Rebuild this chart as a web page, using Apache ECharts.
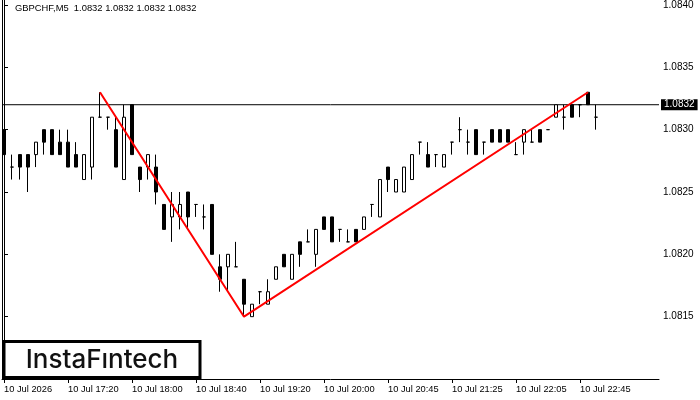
<!DOCTYPE html>
<html>
<head>
<meta charset="utf-8">
<script src="https://cdn.jsdelivr.net/npm/echarts@6/dist/echarts.min.js"></script>
<style>
	html, body { margin: 0; padding: 0; background: #fff; }
	#chart { width: 700px; height: 400px; }
</style>
</head>
<body>
<div id="chart"></div>
<script>
// GBPCHF M5 bars (index 0 = 16:40)
var openPrices = [
	1.0830, 1.0827, 1.0828, 1.0828, 1.0828, 1.0830, 1.0830, 1.0829, 1.0829, 1.0828,
	1.0826, 1.0827, 1.0831, 1.0831, 1.0830, 1.0826, 1.0832, 1.0827, 1.0827, 1.0827,
	1.0824, 1.0823, 1.0823, 1.0825, 1.0824, 1.0823, 1.0824, 1.0819, 1.0819, 1.0819,
	1.0818, 1.0815, 1.0817, 1.0816, 1.0818, 1.0820, 1.0818, 1.0821, 1.0821, 1.0820,
	1.0823, 1.0823, 1.0822, 1.0821, 1.0822, 1.0822, 1.0824, 1.0823, 1.0827, 1.0825,
	1.0825, 1.0826, 1.0829, 1.0828, 1.0828, 1.0827, 1.0829, 1.0830, 1.0829, 1.0830,
	1.0829, 1.0830, 1.0830, 1.0830, 1.0828, 1.0829, 1.0829, 1.0830, 1.0830, 1.0831,
	1.0831, 1.0832, 1.0832, 1.0833, 1.0831
];
var closePrices = [
	1.0828, 1.0827, 1.0827, 1.0827, 1.0829, 1.0829, 1.0828, 1.0828, 1.0827, 1.0827,
	1.0828, 1.0831, 1.0831, 1.0831, 1.0827, 1.0831, 1.0828, 1.0826, 1.0828, 1.0825,
	1.0822, 1.0824, 1.0824, 1.0823, 1.0824, 1.0823, 1.0820, 1.0818, 1.0820, 1.0819,
	1.0816, 1.0816, 1.0817, 1.0817, 1.0819, 1.0819, 1.0820, 1.0820, 1.0821, 1.0822,
	1.0822, 1.0821, 1.0822, 1.0821, 1.0821, 1.0823, 1.0824, 1.0826, 1.0826, 1.0826,
	1.0827, 1.0828, 1.0829, 1.0827, 1.0828, 1.0828, 1.0829, 1.0830, 1.0829, 1.0828,
	1.0829, 1.0829, 1.0829, 1.0829, 1.0828, 1.0830, 1.0829, 1.0829, 1.0830, 1.0832,
	1.0831, 1.0831, 1.0832, 1.0832, 1.0831
];
var lowPrices = [
	1.0828, 1.0826, 1.0826, 1.0825, 1.0827, 1.0828, 1.0828, 1.0828, 1.0827, 1.0827,
	1.0826, 1.0826, 1.0831, 1.0830, 1.0827, 1.0826, 1.0828, 1.0825, 1.0826, 1.0824,
	1.0822, 1.0821, 1.0822, 1.0822, 1.0823, 1.0822, 1.0820, 1.0817, 1.0817, 1.0819,
	1.0815, 1.0815, 1.0816, 1.0816, 1.0818, 1.0819, 1.0818, 1.0819, 1.0821, 1.0819,
	1.0822, 1.0821, 1.0821, 1.0821, 1.0821, 1.0822, 1.0823, 1.0823, 1.0825, 1.0825,
	1.0825, 1.0826, 1.0828, 1.0827, 1.0827, 1.0827, 1.0828, 1.0829, 1.0828, 1.0828,
	1.0828, 1.0829, 1.0829, 1.0829, 1.0828, 1.0828, 1.0829, 1.0829, 1.0830, 1.0831,
	1.0830, 1.0831, 1.0831, 1.0832, 1.0830
];
var highPrices = [
	1.0830, 1.0828, 1.0828, 1.0828, 1.0829, 1.0830, 1.0830, 1.0830, 1.0830, 1.0829,
	1.0828, 1.0831, 1.0833, 1.0831, 1.0831, 1.0832, 1.0832, 1.0827, 1.0828, 1.0828,
	1.0824, 1.0825, 1.0825, 1.0825, 1.0824, 1.0824, 1.0824, 1.0820, 1.0820, 1.0821,
	1.0818, 1.0816, 1.0817, 1.0818, 1.0819, 1.0820, 1.0820, 1.0821, 1.0822, 1.0822,
	1.0823, 1.0823, 1.0822, 1.0822, 1.0822, 1.0823, 1.0824, 1.0826, 1.0827, 1.0826,
	1.0827, 1.0828, 1.0829, 1.0829, 1.0828, 1.0828, 1.0829, 1.0831, 1.0830, 1.0830,
	1.0829, 1.0830, 1.0830, 1.0830, 1.0829, 1.0830, 1.0830, 1.0830, 1.0830, 1.0832,
	1.0832, 1.0832, 1.0832, 1.0833, 1.0832
];

// pattern line drawn on the chart: bar index / price
var patternIdx = [12, 30, 73];
var patternPrice = [1.0833, 1.0815, 1.0833];

var timeTickIdx = [0, 8, 16, 24, 32, 40, 48, 56, 64, 72];
var timeLabels = ['10 Jul 2026', '10 Jul 17:20', '10 Jul 18:00', '10 Jul 18:40', '10 Jul 19:20',
	'10 Jul 20:00', '10 Jul 20:45', '10 Jul 21:25', '10 Jul 22:05', '10 Jul 22:45'];

var lastPrice = 1.0832;
var titleText = 'GBPCHF,M5  1.0832 1.0832 1.0832 1.0832';

// x range in bar units: 8 px per bar, chart shifted to leave empty space on the right
var xMin = -0.25, xMax = 81.875;

var font = 'Liberation Sans, Arial, sans-serif';

var candles = [], i;
for (i = 0; i < openPrices.length; i++) {
	candles.push([i, openPrices[i], closePrices[i], lowPrices[i], highPrices[i]]);
}
var pattern = [];
for (i = 0; i < patternIdx.length; i++) {
	pattern.push([patternIdx[i], patternPrice[i]]);
}

var myChart = echarts.init(document.getElementById('chart'), null, { renderer: 'canvas' });

var option = {
	animation: false,
	backgroundColor: '#ffffff',
	title: {
		text: titleText,
		left: 15,
		top: 4,
		padding: 0,
		textStyle: { fontFamily: font, fontSize: 9.4, fontWeight: 'normal', color: '#000' }
	},
	grid: { left: 2, right: 41, top: 0, bottom: 21 },
	xAxis: {
		type: 'value',
		min: xMin,
		max: xMax,
		splitLine: { show: false },
		axisLine: { show: true, onZero: false, lineStyle: { color: '#000', width: 1 } },
		axisTick: { show: true, length: 4, customValues: timeTickIdx, lineStyle: { color: '#000' } },
		axisLabel: {
			customValues: timeTickIdx,
			align: 'left',
			margin: 6,
			fontFamily: font,
			fontSize: 9.3,
			color: '#000',
			formatter: function (v) {
				var k = timeTickIdx.indexOf(Math.round(v));
				return k >= 0 ? timeLabels[k] : '';
			}
		}
	},
	yAxis: [{
		type: 'value',
		position: 'right',
		min: 1.0810,
		max: 1.08404,
		interval: 0.0005,
		scale: true,
		splitLine: { show: false },
		axisLine: { show: true, lineStyle: { color: '#000', width: 1 } },
		axisTick: { show: true, length: 4, lineStyle: { color: '#000' } },
		axisLabel: {
			showMinLabel: false,
			showMaxLabel: false,
			margin: 4,
			fontFamily: font,
			fontSize: 10,
			color: '#000',
			formatter: function (v) { return v.toFixed(4); }
		}
	}, {
		type: 'value',
		position: 'left',
		min: 1.0810,
		max: 1.08404,
		splitLine: { show: false },
		axisLine: { show: true, lineStyle: { color: '#000', width: 1 } },
		axisTick: { show: false },
		axisLabel: { show: false }
	}],
	series: [{
		// current price line with its tag on the price scale
		type: 'line',
		yAxisIndex: 0,
		data: [[xMin, lastPrice], [xMax, lastPrice]],
		showSymbol: false,
		clip: false,
		z: 1,
		lineStyle: { color: '#000', width: 1 },
		endLabel: {
			show: true,
			distance: 2,
			formatter: function () { return lastPrice.toFixed(4); },
			color: '#fff',
			backgroundColor: '#000',
			padding: [1, 3, 0, 3],
			fontFamily: font,
			fontSize: 10
		}
	}, {
		type: 'candlestick',
		yAxisIndex: 0,
		barWidth: 4,
		z: 2,
		data: candles,
		itemStyle: {
			color: '#ffffff',
			color0: '#000000',
			borderColor: '#000000',
			borderColor0: '#000000',
			borderWidth: 1
		}
	}, {
		type: 'line',
		yAxisIndex: 0,
		data: pattern,
		showSymbol: false,
		z: 5,
		lineStyle: { color: '#ff0000', width: 2 }
	}],
	graphic: [{
		type: 'rect',
		z: 100,
		shape: { x: 4, y: 341.5, width: 196, height: 36 },
		style: { fill: '#fff', stroke: '#000', lineWidth: 3 }
	}, {
		type: 'text',
		z: 101,
		x: 102,
		y: 360,
		style: {
			text: 'InstaF\u0131ntech',
			fontFamily: 'Inter, Lato, sans-serif',
			fontSize: 26,
			fontWeight: 500,
			fill: '#111',
			align: 'center',
			verticalAlign: 'middle'
		}
	}]
};

myChart.setOption(option);
</script>
</body>
</html>
